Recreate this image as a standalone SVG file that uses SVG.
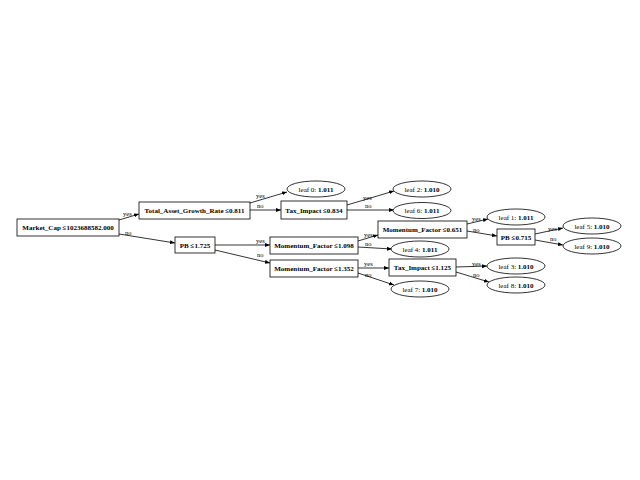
<svg xmlns="http://www.w3.org/2000/svg" width="640" height="480" viewBox="0 0 640 480">
  <defs>
    <marker id="arr" viewBox="0 0 10 10" refX="10" refY="5" markerWidth="5" markerHeight="5" markerUnits="userSpaceOnUse" orient="auto">
      <path d="M0,1 L10,5 L0,9 Z" fill="#000"/>
    </marker>
    <style>
      .box { fill: #fff; stroke: #000; stroke-width: 0.8; }
      .leaf { fill: #fff; stroke: #000; stroke-width: 0.8; }
      .nt { font-family: "Liberation Serif", "Times New Roman", serif; font-size: 7px; font-weight: bold; text-anchor: middle; fill: #000; }
      .lt { font-family: "Liberation Serif", "Times New Roman", serif; font-size: 7px; text-anchor: middle; fill: #000; }
      .lt tspan.b { font-weight: bold; }
      .e { fill: none; stroke: #000; stroke-width: 0.8; marker-end: url(#arr); }
      .el { font-family: "Liberation Serif", "Times New Roman", serif; font-size: 6.5px; fill: #000; }
    </style>
  </defs>
  <rect width="640" height="480" fill="#fff"/>

  <g id="edges">
    <path class="e" d="M119,220 L139,214"/>
    <text class="el" x="123" y="216">yes</text>
    <path class="e" d="M119,234 L175,243"/>
    <text class="el" x="125" y="235">no</text>

    <path class="e" d="M250,203 L287,192"/>
    <text class="el" x="256" y="198">yes</text>
    <path class="e" d="M250,210 L281,210"/>
    <text class="el" x="257" y="208">no</text>

    <path class="e" d="M347,205 L394,191"/>
    <text class="el" x="363" y="200">yes</text>
    <path class="e" d="M347,210 L394,210"/>
    <text class="el" x="365" y="208">no</text>

    <path class="e" d="M215,245 L270,245"/>
    <text class="el" x="256" y="243">yes</text>
    <path class="e" d="M215,250 L270,263"/>
    <text class="el" x="257" y="257">no</text>

    <path class="e" d="M358,241 L378,235"/>
    <text class="el" x="364" y="237">yes</text>
    <path class="e" d="M358,247 L392,249"/>
    <text class="el" x="365" y="246">no</text>

    <path class="e" d="M467,224 L488,219"/>
    <text class="el" x="472" y="221">yes</text>
    <path class="e" d="M467,231 L497,236"/>
    <text class="el" x="473" y="232">no</text>

    <path class="e" d="M535,234 L563,228"/>
    <text class="el" x="548" y="231">yes</text>
    <path class="e" d="M535,240 L563,245"/>
    <text class="el" x="550" y="241">no</text>

    <path class="e" d="M358,268 L389,268"/>
    <text class="el" x="364" y="266">yes</text>
    <path class="e" d="M358,273 L394,285"/>
    <text class="el" x="365" y="277">no</text>

    <path class="e" d="M456,267 L487,266"/>
    <text class="el" x="472" y="266">yes</text>
    <path class="e" d="M456,272 L489,282"/>
    <text class="el" x="473" y="277">no</text>
  </g>

  <g id="n_market_cap">
    <rect class="box" x="17" y="219" width="102" height="17"/>
    <text class="nt" x="68" y="230">Market_Cap ≤1023688582.000</text>
  </g>
  <g id="n_tagr">
    <rect class="box" x="139" y="202" width="111" height="17"/>
    <text class="nt" x="194.5" y="213">Total_Asset_Growth_Rate ≤0.811</text>
  </g>
  <g id="n_pb_1725">
    <rect class="box" x="175" y="237" width="40" height="16"/>
    <text class="nt" x="195" y="247.5">PB ≤1.725</text>
  </g>
  <g id="n_tax_0834">
    <rect class="box" x="281" y="201" width="66" height="18"/>
    <text class="nt" x="314" y="212.5">Tax_Impact ≤0.834</text>
  </g>
  <g id="n_mf_1098">
    <rect class="box" x="270" y="237" width="88" height="17"/>
    <text class="nt" x="314" y="248">Momentum_Factor ≤1.098</text>
  </g>
  <g id="n_mf_1352">
    <rect class="box" x="270" y="260" width="88" height="17"/>
    <text class="nt" x="314" y="271">Momentum_Factor ≤1.352</text>
  </g>
  <g id="n_mf_0651">
    <rect class="box" x="378" y="221" width="89" height="17"/>
    <text class="nt" x="422.5" y="232">Momentum_Factor ≤0.651</text>
  </g>
  <g id="n_tax_1125">
    <rect class="box" x="389" y="259" width="67" height="17"/>
    <text class="nt" x="422.5" y="270">Tax_Impact ≤1.125</text>
  </g>
  <g id="n_pb_0715">
    <rect class="box" x="497" y="229" width="38" height="16"/>
    <text class="nt" x="516" y="239.5">PB ≤0.715</text>
  </g>

  <g id="leaf0">
    <ellipse class="leaf" cx="316" cy="189" rx="29" ry="8"/>
    <text class="lt" x="316" y="191.5">leaf 0: <tspan class="b">1.011</tspan></text>
  </g>
  <g id="leaf2">
    <ellipse class="leaf" cx="422" cy="189" rx="29" ry="8"/>
    <text class="lt" x="422" y="191.5">leaf 2: <tspan class="b">1.010</tspan></text>
  </g>
  <g id="leaf6">
    <ellipse class="leaf" cx="422" cy="210.5" rx="29" ry="8"/>
    <text class="lt" x="422" y="213">leaf 6: <tspan class="b">1.011</tspan></text>
  </g>
  <g id="leaf1">
    <ellipse class="leaf" cx="516" cy="217" rx="29" ry="8"/>
    <text class="lt" x="516" y="219.5">leaf 1: <tspan class="b">1.011</tspan></text>
  </g>
  <g id="leaf4">
    <ellipse class="leaf" cx="420" cy="249" rx="29" ry="8"/>
    <text class="lt" x="420" y="251.5">leaf 4: <tspan class="b">1.011</tspan></text>
  </g>
  <g id="leaf5">
    <ellipse class="leaf" cx="592" cy="226" rx="29" ry="8"/>
    <text class="lt" x="592" y="228.5">leaf 5: <tspan class="b">1.010</tspan></text>
  </g>
  <g id="leaf9">
    <ellipse class="leaf" cx="592" cy="246" rx="29" ry="8"/>
    <text class="lt" x="592" y="248.5">leaf 9: <tspan class="b">1.010</tspan></text>
  </g>
  <g id="leaf3">
    <ellipse class="leaf" cx="516" cy="266" rx="29" ry="8"/>
    <text class="lt" x="516" y="268.5">leaf 3: <tspan class="b">1.010</tspan></text>
  </g>
  <g id="leaf8">
    <ellipse class="leaf" cx="516" cy="285" rx="29" ry="8"/>
    <text class="lt" x="516" y="287.5">leaf 8: <tspan class="b">1.010</tspan></text>
  </g>
  <g id="leaf7">
    <ellipse class="leaf" cx="420" cy="289" rx="29" ry="8"/>
    <text class="lt" x="420" y="291.5">leaf 7: <tspan class="b">1.010</tspan></text>
  </g>
</svg>
